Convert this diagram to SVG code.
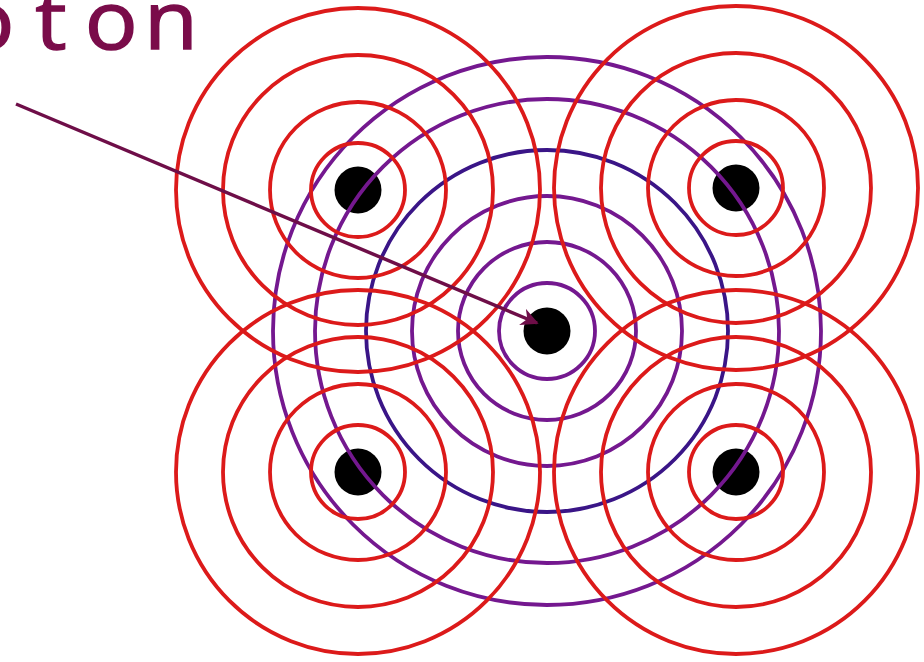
<svg xmlns="http://www.w3.org/2000/svg" width="924" height="662" viewBox="0 0 924 662">
<style>
.red{fill:none;stroke:#dc1a1a;stroke-width:3.8}
.pur{fill:none;stroke:#74188f;stroke-width:3.8}
.blu{fill:none;stroke:#3a1587;stroke-width:3.8}
.dot{fill:#000}
.lbl{font-family:"Open Sans","DejaVu Sans",sans-serif;font-size:80px;fill:#7a0c4a;stroke:#7a0c4a;stroke-width:1.4}
</style>
<defs>
<marker id="ah" viewBox="0 0 10 10" refX="9" refY="5" markerWidth="5" markerHeight="5" orient="auto" markerUnits="strokeWidth">
<path d="M0,0 L10,5 L0,10 L3,5 Z" fill="#6e0e48"/>
</marker>
</defs>
<rect width="924" height="662" fill="#fff"/>
<g id="dots">
<circle class="dot" cx="358" cy="190" r="23.5"/>
<circle class="dot" cx="736" cy="188" r="23.5"/>
<circle class="dot" cx="358" cy="472" r="23.5"/>
<circle class="dot" cx="736" cy="472" r="23.5"/>
<circle class="dot" cx="547" cy="331" r="23.5"/>
</g>
<g id="center-waves">
<circle class="pur" cx="547" cy="331" r="48"/>
<circle class="pur" cx="547" cy="331" r="89"/>
<circle class="pur" cx="547" cy="331" r="135"/>
<circle class="blu" cx="547" cy="331" r="181"/>
<circle class="pur" cx="547" cy="331" r="232"/>
<circle class="pur" cx="547" cy="331" r="274"/>
</g>
<g id="source-tl">
<circle class="red" cx="358" cy="190" r="47"/>
<circle class="red" cx="358" cy="190" r="88"/>
<circle class="red" cx="358" cy="190" r="135"/>
<circle class="red" cx="358" cy="190" r="182"/>
</g>
<g id="source-tr">
<circle class="red" cx="736" cy="188" r="47"/>
<circle class="red" cx="736" cy="188" r="88"/>
<circle class="red" cx="736" cy="188" r="135"/>
<circle class="red" cx="736" cy="188" r="182"/>
</g>
<g id="source-bl">
<circle class="red" cx="358" cy="472" r="47"/>
<circle class="red" cx="358" cy="472" r="88"/>
<circle class="red" cx="358" cy="472" r="135"/>
<circle class="red" cx="358" cy="472" r="182"/>
</g>
<g id="source-br">
<circle class="red" cx="736" cy="472" r="47"/>
<circle class="red" cx="736" cy="472" r="88"/>
<circle class="red" cx="736" cy="472" r="135"/>
<circle class="red" cx="736" cy="472" r="182"/>
</g>
<g id="label" transform="scale(1.1 1)">
<text class="lbl" x="-35 32 55 77 131" y="49">ot on</text>
</g>
<g id="connectors">
<line x1="16" y1="104" x2="537" y2="323" stroke="#6e0e48" stroke-width="3.5" marker-end="url(#ah)"/>
</g>
</svg>
